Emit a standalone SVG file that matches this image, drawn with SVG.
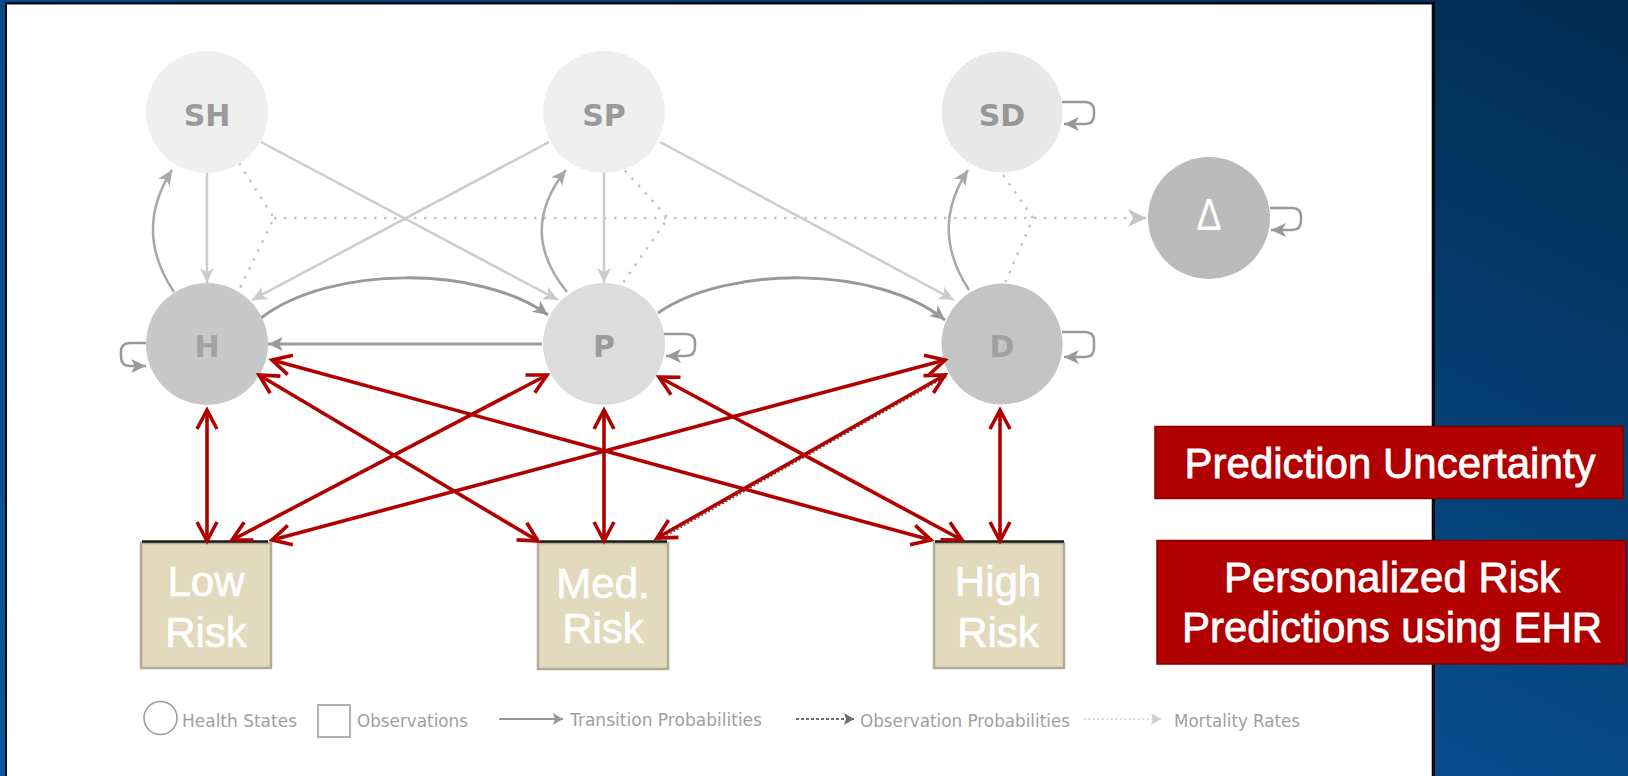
<svg xmlns="http://www.w3.org/2000/svg" width="1628" height="776" viewBox="0 0 1628 776">
  <defs>
    <linearGradient id="bg" x1="1" y1="0" x2="0" y2="1">
      <stop offset="0" stop-color="#022b50"/>
      <stop offset="0.5" stop-color="#064a88"/>
      <stop offset="1" stop-color="#0b569e"/>
    </linearGradient>
    <!-- filled swept arrowheads for the grey transitions -->
    <marker id="aLight" viewBox="-16 -8 18 16" refX="0" refY="0" markerWidth="18" markerHeight="16" markerUnits="userSpaceOnUse" orient="auto">
      <path d="M0,0 L-15,-7 L-11,0 L-15,7 z" fill="#cccccc"/>
    </marker>
    <marker id="aMid" viewBox="-16 -8 18 16" refX="0" refY="0" markerWidth="18" markerHeight="16" markerUnits="userSpaceOnUse" orient="auto">
      <path d="M0,0 L-15,-7 L-11,0 L-15,7 z" fill="#a8a8a8"/>
    </marker>
    <marker id="aDark" viewBox="-16 -8 18 16" refX="0" refY="0" markerWidth="18" markerHeight="16" markerUnits="userSpaceOnUse" orient="auto">
      <path d="M0,0 L-15,-7 L-11,0 L-15,7 z" fill="#999999"/>
    </marker>
    <marker id="aDot" viewBox="-20 -10 22 20" refX="0" refY="0" markerWidth="22" markerHeight="20" markerUnits="userSpaceOnUse" orient="auto">
      <path d="M0,0 L-18,-9 L-13,0 L-18,9 z" fill="#c4c4c4"/>
    </marker>
    <!-- open chevron for the red observation links (both ends) -->
    <marker id="aRed" viewBox="-24 -13 30 26" refX="0" refY="0" markerWidth="30" markerHeight="26" markerUnits="userSpaceOnUse" orient="auto-start-reverse">
      <path d="M-19,-10 L0,0 L-19,10" fill="none" stroke="#b00000" stroke-width="3.6"/>
    </marker>
    <!-- legend arrowheads -->
    <marker id="lgSolid" viewBox="-12 -7 14 14" refX="0" refY="0" markerWidth="14" markerHeight="14" markerUnits="userSpaceOnUse" orient="auto">
      <path d="M0,0 L-10,-6 L-8,0 L-10,6 z" fill="#999999"/>
    </marker>
    <marker id="lgDash" viewBox="-12 -7 14 14" refX="0" refY="0" markerWidth="14" markerHeight="14" markerUnits="userSpaceOnUse" orient="auto">
      <path d="M0,0 L-10,-6 L-8,0 L-10,6 z" fill="#6e6e6e"/>
    </marker>
    <marker id="lgDot" viewBox="-12 -7 14 14" refX="0" refY="0" markerWidth="14" markerHeight="14" markerUnits="userSpaceOnUse" orient="auto">
      <path d="M0,0 L-10,-6 L-8,0 L-10,6 z" fill="#cfcfcf"/>
    </marker>
    <style>
      .state text { font-family: "DejaVu Sans", sans-serif; font-weight: bold; font-size: 30px; text-anchor: middle; }
      .obs rect { fill: #e3d9bc; stroke: #b3ab93; stroke-width: 2.5; }
      .obs text { font-family: "Liberation Sans", Arial, sans-serif; font-size: 42px; fill: #ffffff; stroke: #ffffff; stroke-width: 0.7; text-anchor: middle; }
      .obs line { stroke: #1a1a1a; stroke-width: 2.5; }
      .light { fill: none; stroke: #cccccc; stroke-width: 2.5; marker-end: url(#aLight); }
      .mid { fill: none; stroke: #a8a8a8; stroke-width: 2.5; marker-end: url(#aMid); }
      .dark { fill: none; stroke: #999999; stroke-width: 3; marker-end: url(#aDark); }
      .loop { fill: none; stroke: #999999; stroke-width: 2.5; marker-end: url(#aDark); }
      .dot { fill: none; stroke: #c4c4c4; stroke-width: 2.5; stroke-dasharray: 2.5 7.5; }
      .red { fill: none; stroke: #b00000; stroke-width: 3.6; marker-start: url(#aRed); marker-end: url(#aRed); }
      .callout rect { fill: #b00000; stroke: #870000; stroke-width: 1.5; }
      .callout text { font-family: "Liberation Sans", Arial, sans-serif; font-size: 42px; fill: #ffffff; stroke: #ffffff; stroke-width: 0.8; text-anchor: middle; }
      .legend text { font-family: "DejaVu Sans", sans-serif; font-size: 17px; fill: #a0a0a0; }
    </style>
  </defs>

  <!-- slide background and white panel -->
  <rect x="0" y="0" width="1628" height="776" fill="url(#bg)"/>
  <rect x="5" y="2" width="1430" height="790" fill="#050a12"/>
  <rect x="7" y="4.5" width="1424.7" height="790" fill="#ffffff"/>

  <!-- mortality (dotted) links -->
  <g id="mortality">
    <path class="dot" d="M239,163 L274,218 L239,290"/>
    <path class="dot" d="M618,163 L668,218 L618,290"/>
    <path class="dot" d="M1003,175 L1033,218 L1005,283"/>
    <path class="dot" d="M274,218 L1146,218" marker-end="url(#aDot)"/>
  </g>

  <!-- transitions -->
  <g id="transitions">
    <path class="light" d="M207,173 L207,283"/>
    <path class="light" d="M604,173 L604,283"/>
    <path class="light" d="M261,142 L558,300"/>
    <path class="light" d="M549,142 L252,300"/>
    <path class="light" d="M660,142 L954,300"/>
    <path class="mid" d="M174,292 Q133,231 172,170"/>
    <path class="mid" d="M567,292 Q517,231 566,170"/>
    <path class="mid" d="M969,290 Q929,229 968,170"/>
    <path class="dark" d="M261,318 C330,265 480,265 548,315"/>
    <path class="dark" d="M658,313 C727,265 877,265 945,320"/>
    <path class="dark" d="M542,344 L268,344"/>
    <path class="loop" d="M146,343 L130,343 Q121,343 121,352 L121,357 Q121,366 130,366 L146,366"/>
    <path class="loop" d="M663,334 L686,334 Q695,334 695,343 L695,347 Q695,356 686,356 L666,356"/>
    <path class="loop" d="M1062,102 L1085,102 Q1094,102 1094,111 L1094,115 Q1094,124 1085,124 L1064,124"/>
    <path class="loop" d="M1062,332 L1085,332 Q1094,332 1094,341 L1094,348 Q1094,357 1085,357 L1064,357"/>
    <path class="loop" d="M1270,208 L1292,208 Q1301,208 1301,217 L1301,221 Q1301,230 1292,230 L1271,230"/>
  </g>

  <!-- health states -->
  <g id="node-SH" class="state">
    <circle cx="207" cy="112" r="61" fill="#efefef"/>
    <text x="207" y="126" fill="#9a9a9a">SH</text>
  </g>
  <g id="node-SP" class="state">
    <circle cx="604" cy="112" r="61" fill="#efefef"/>
    <text x="604" y="126" fill="#9a9a9a">SP</text>
  </g>
  <g id="node-SD" class="state">
    <circle cx="1002" cy="112" r="60.5" fill="#e8e8e8"/>
    <text x="1002" y="126" fill="#979797">SD</text>
  </g>
  <g id="node-H" class="state">
    <circle cx="207" cy="344" r="61" fill="#c8c8c8"/>
    <text x="207" y="356.5" fill="#a3a3a3">H</text>
  </g>
  <g id="node-P" class="state">
    <circle cx="604" cy="344" r="61" fill="#dcdcdc"/>
    <text x="604" y="356.5" fill="#9b9b9b">P</text>
  </g>
  <g id="node-D" class="state">
    <circle cx="1002" cy="344" r="60.5" fill="#c4c4c4"/>
    <text x="1002" y="356.5" fill="#a0a0a0">D</text>
  </g>
  <g id="node-death">
    <circle cx="1209" cy="218" r="61" fill="#bbbbbb"/>
    <text x="1209" y="230" font-family="Liberation Sans, Arial, sans-serif" font-size="44" fill="#ffffff" text-anchor="middle" textLength="25" lengthAdjust="spacingAndGlyphs">Δ</text>
  </g>

  <!-- observations -->
  <g id="obs-low" class="obs">
    <rect x="141" y="543" width="130" height="125"/>
    <line x1="142" y1="541.5" x2="268" y2="541.5"/>
    <text x="206" y="595.5">Low</text>
    <text x="206" y="646.5">Risk</text>
  </g>
  <g id="obs-med" class="obs">
    <rect x="538" y="543" width="130" height="126"/>
    <line x1="540" y1="541.5" x2="667" y2="541.5"/>
    <text x="603" y="598" font-size="38">Med.</text>
    <text x="603" y="642.5" font-size="38">Risk</text>
  </g>
  <g id="obs-high" class="obs">
    <rect x="934" y="543" width="130" height="125"/>
    <line x1="935" y1="541.5" x2="1064" y2="541.5"/>
    <text x="998" y="595.5">High</text>
    <text x="998" y="646.5">Risk</text>
  </g>

  <!-- observation links -->
  <g id="observation-links">
    <line x1="946.5" y1="376.5" x2="659.5" y2="539.5" stroke="#555555" stroke-width="1.5" stroke-dasharray="2 2"/>
    <line class="red" x1="207" y1="410" x2="207" y2="541"/>
    <line class="red" x1="604" y1="410" x2="604" y2="541"/>
    <line class="red" x1="1000" y1="410" x2="1000" y2="541"/>
    <line class="red" x1="259" y1="375" x2="538" y2="541"/>
    <line class="red" x1="272" y1="360" x2="931" y2="540"/>
    <line class="red" x1="547" y1="375" x2="232" y2="540"/>
    <line class="red" x1="659" y1="377" x2="962" y2="540"/>
    <line class="red" x1="945" y1="360" x2="272" y2="540"/>
    <line class="red" x1="945" y1="375" x2="657" y2="538"/>
  </g>

  <!-- callouts -->
  <g id="callout-uncertainty" class="callout">
    <rect x="1155" y="426.5" width="468" height="72"/>
    <text x="1390" y="477.5">Prediction Uncertainty</text>
  </g>
  <g id="callout-ehr" class="callout">
    <rect x="1157" y="540.5" width="469" height="123.5"/>
    <text x="1392" y="591.5">Personalized Risk</text>
    <text x="1392" y="641.5">Predictions using EHR</text>
  </g>

  <!-- legend -->
  <g id="legend" class="legend">
    <circle cx="160.5" cy="718" r="16.5" fill="none" stroke="#9a9a9a" stroke-width="1.5"/>
    <text x="182" y="726.5" textLength="115" lengthAdjust="spacingAndGlyphs">Health States</text>
    <rect x="318" y="705" width="32" height="32" fill="none" stroke="#aaaaaa" stroke-width="1.8"/>
    <text x="357" y="726.5" textLength="111" lengthAdjust="spacingAndGlyphs">Observations</text>
    <line x1="499" y1="719" x2="563" y2="719" stroke="#999999" stroke-width="2" marker-end="url(#lgSolid)"/>
    <text x="570" y="725.5" textLength="192" lengthAdjust="spacingAndGlyphs">Transition Probabilities</text>
    <line x1="796" y1="719" x2="854" y2="719" stroke="#6e6e6e" stroke-width="1.8" stroke-dasharray="3 2" marker-end="url(#lgDash)"/>
    <text x="860" y="726.5" textLength="210" lengthAdjust="spacingAndGlyphs">Observation Probabilities</text>
    <line x1="1084" y1="719" x2="1161" y2="719" stroke="#d2d2d2" stroke-width="1.8" stroke-dasharray="1.5 3" marker-end="url(#lgDot)"/>
    <text x="1174" y="726.5" textLength="126" lengthAdjust="spacingAndGlyphs">Mortality Rates</text>
  </g>
</svg>
